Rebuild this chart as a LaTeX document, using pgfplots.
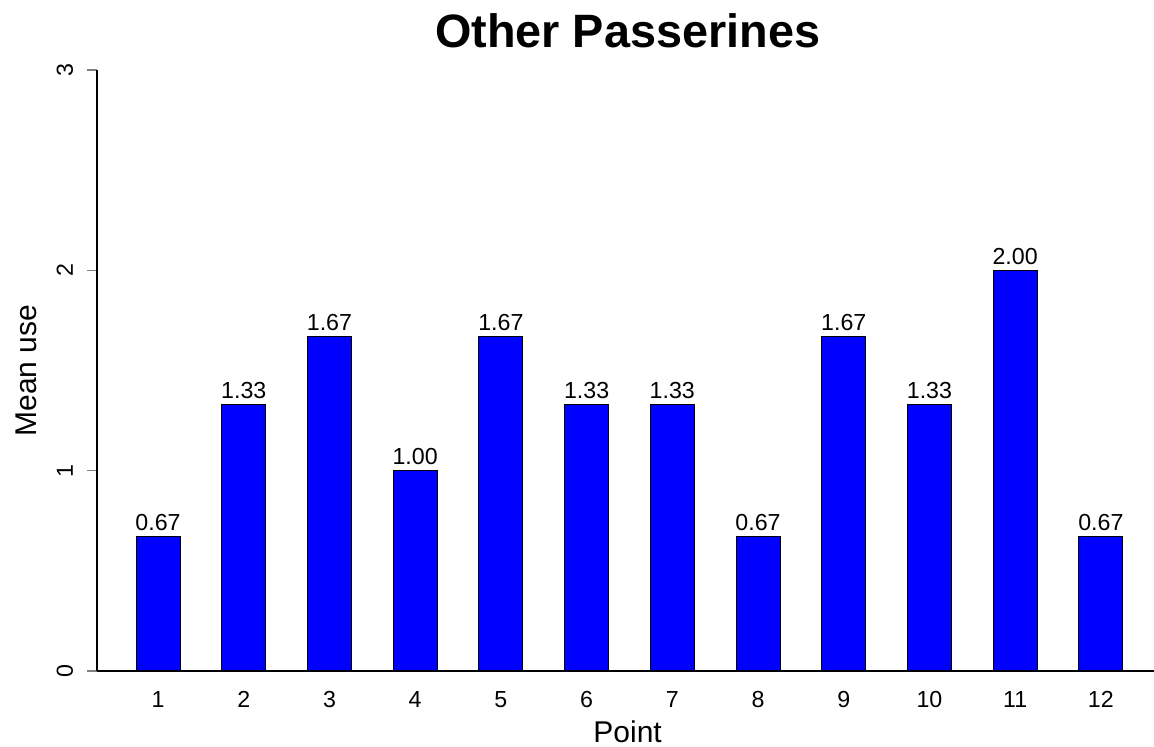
\documentclass[border=0pt]{standalone}
\usepackage{pgfplots}
\pgfplotsset{compat=1.18}
\usepackage{fontspec}
\setmainfont{Liberation Sans}
\begin{document}
\begin{tikzpicture}
\begin{axis}[
  scale only axis,
  width=528.5pt, height=300.5pt,
  xmin=0.288, xmax=12.62,
  ymin=0, ymax=3,
  axis x line=bottom,
  axis y line=left,
  axis line style={-, line width=0.6pt},
  xtick={1,...,12},
  x tick style={draw=none},
  ytick={0,1,2,3},
  y tick style={line width=0.6pt},
  tick align=outside,
  major tick length=5pt,
  /pgf/number format/assume math mode=true,
  tick label style={font=\fontsize{11.6}{13}\selectfont},
  yticklabel style={xshift=-7pt, anchor=base, rotate=90},
  xticklabel style={anchor=north, yshift=-1.5pt},
  title={\textbf{Other Passerines}},
  title style={at={(axis description cs:0.502,1)}, anchor=base, yshift=5pt, font=\fontsize{23.4}{26}\selectfont},
  xlabel={Point},
  xlabel style={at={(axis description cs:0.502,0)}, anchor=base, yshift=-36pt, font=\fontsize{15}{17}\selectfont},
  ylabel={Mean use},
  ylabel style={at={(axis description cs:-0.0568,0.5)}, anchor=base, font=\fontsize{15}{17}\selectfont},
  clip=false,
]
\addplot[ybar, bar width=22pt, fill={rgb,255:red,0;green,0;blue,255}, draw=black, line width=0.5pt,
  nodes near coords,
  every node near coord/.append style={anchor=base, yshift=3pt, font=\fontsize{11.6}{13}\selectfont, /pgf/number format/.cd, fixed, fixed zerofill, precision=2, assume math mode=true},
] coordinates {
(1,0.67) (2,1.33) (3,1.67) (4,1.00) (5,1.67) (6,1.33) (7,1.33) (8,0.67) (9,1.67) (10,1.33) (11,2.00) (12,0.67)
};
\end{axis}
\pgfresetboundingbox
\useasboundingbox ([xshift=-48.5pt,yshift=-38pt]current axis.south west) rectangle ([yshift=35pt]current axis.north east);
\end{tikzpicture}
\end{document}
